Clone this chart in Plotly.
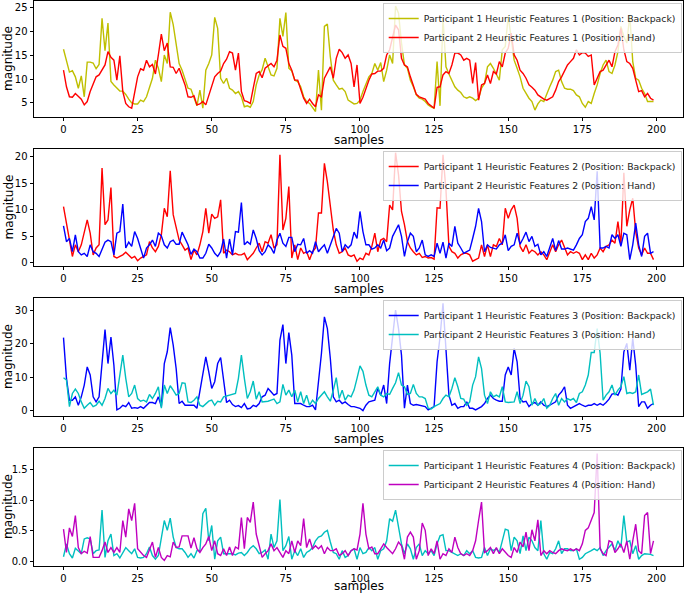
import plotly.graph_objects as go

# ---------------- data ----------------
x_tick_vals = [0, 25, 50, 75, 100, 125, 150, 175, 200]

p1_feat1_backpack = [
    16.3, 14.0, 11.5, 11.8, 10.5, 8.1, 10.7, 6.3, 13.6, 13.6,
    13.4, 12.2, 13.1, 22.8, 16.0, 21.8, 9.5, 8.8, 8.1, 7.5,
    7.5, 6.8, 5.8, 5.0, 4.8, 4.8, 5.6, 5.3, 6.3, 8.4,
    10.2, 14.0, 12.3, 9.5, 15.1, 13.3, 24.1, 21.5, 17.0, 13.3,
    11.9, 10.2, 8.1, 7.9, 6.3, 4.4, 7.7, 3.9, 11.9, 13.3,
    15.1, 23.0, 20.7, 10.2, 9.1, 10.2, 8.1, 7.7, 7.0, 7.4,
    6.3, 4.2, 4.4, 4.1, 5.3, 8.8, 10.9, 12.0, 14.4, 12.5,
    10.9, 10.7, 12.3, 22.8, 19.0, 24.0, 12.3, 11.7, 9.8, 9.5,
    8.4, 6.3, 5.3, 4.9, 4.1, 3.2, 11.9, 3.5, 21.1, 21.6,
    14.7, 9.8, 8.8, 7.9, 8.1, 7.4, 5.6, 5.1, 4.8, 4.9,
    5.6, 7.4, 9.1, 10.5, 11.2, 13.3, 11.9, 13.5, 9.5, 11.9,
    15.1, 13.3, 25.4, 23.9, 17.6, 13.0, 12.3, 9.8, 8.4, 6.7,
    6.0, 5.8, 5.3, 4.6, 4.2, 3.9, 13.7, 4.4, 22.8, 12.6,
    11.1, 9.8, 8.4, 7.7, 7.2, 6.3, 6.0, 6.3, 6.0, 5.5,
    6.0, 8.1, 9.1, 12.6, 13.3, 12.3, 10.9, 9.8, 16.2, 16.9,
    23.2, 18.3, 14.0, 12.3, 10.5, 8.1, 7.0, 6.0, 5.3, 3.5,
    4.8, 5.6, 5.3, 7.0, 8.4, 9.8, 11.6, 11.9, 9.5, 8.1,
    7.9, 7.9, 7.6, 6.7, 6.3, 4.9, 4.1, 5.3, 4.9, 7.0,
    8.8, 11.2, 13.0, 14.0, 11.6, 11.2, 13.0, 15.8, 21.1, 19.0,
    17.6, 23.5, 13.7, 10.2, 9.8, 8.1, 7.0, 5.3, 5.3, 5.3,
]

p2_feat1_hand = [
    11.9, 8.4, 6.3, 6.2, 7.0, 6.3, 5.8, 4.6, 5.3, 7.4,
    8.8, 10.5, 10.9, 11.9, 13.0, 15.8, 14.6, 14.0, 9.8, 14.9,
    7.4, 4.9, 4.2, 3.9, 7.0, 10.5, 12.2, 11.9, 14.0, 12.6,
    13.1, 11.1, 15.1, 19.5, 16.0, 17.6, 12.6, 12.5, 11.2, 12.3,
    10.5, 8.8, 6.3, 6.2, 6.5, 4.6, 4.8, 5.3, 4.6, 6.7,
    8.8, 10.5, 11.2, 11.7, 13.3, 14.2, 15.8, 15.5, 11.9, 15.5,
    7.4, 5.5, 5.3, 4.9, 8.1, 11.2, 11.6, 10.3, 12.3, 12.8,
    13.3, 12.6, 14.0, 19.3, 16.9, 16.5, 13.3, 11.9, 9.8, 9.8,
    7.7, 6.0, 4.9, 5.8, 4.9, 4.2, 6.7, 6.3, 10.2, 11.4,
    12.6, 10.2, 14.4, 16.3, 15.6, 14.4, 15.1, 13.3, 8.4, 13.0,
    4.9, 6.2, 8.1, 9.8, 11.1, 11.2, 11.7, 11.7, 12.3, 15.1,
    16.2, 19.0, 21.4, 20.4, 14.4, 13.0, 12.6, 10.5, 8.4, 6.8,
    6.3, 6.0, 5.8, 4.9, 4.4, 3.9, 8.3, 8.4, 10.9, 11.6,
    11.2, 13.0, 15.5, 15.5, 15.1, 14.0, 14.4, 14.0, 9.1, 13.5,
    5.6, 8.8, 9.1, 10.9, 9.1, 11.6, 11.1, 13.7, 12.6, 15.5,
    16.5, 19.7, 15.1, 14.0, 11.9, 11.2, 10.2, 8.8, 8.3, 7.7,
    6.7, 6.3, 5.8, 5.6, 6.0, 6.3, 7.7, 9.5, 10.5, 11.9,
    13.0, 13.7, 14.4, 16.2, 15.1, 15.6, 15.5, 14.8, 15.1, 8.8,
    10.2, 11.6, 11.9, 13.0, 14.0, 12.6, 15.8, 17.2, 20.7, 16.2,
    13.7, 13.3, 12.3, 9.8, 7.4, 7.6, 6.3, 7.0, 6.0, 5.6,
]

p1_feat2_backpack = [
    10.6, 7.2, 4.0, 1.2, 3.4, 2.1, 3.4, 5.9, 8.1, 5.6,
    1.5, 2.8, 3.4, 17.9, 7.2, 8.1, 14.2, 1.2, 0.9, 1.2,
    1.5, 2.0, 1.5, 0.9, 1.2, 0.4, 0.9, 1.2, 1.5, 4.0,
    2.8, 2.1, 3.1, 5.3, 10.3, 8.7, 17.4, 9.1, 6.9, 4.3,
    3.4, 2.4, 2.8, 0.6, 2.4, 1.5, 3.4, 5.9, 10.3, 5.6,
    9.2, 8.4, 8.7, 11.9, 1.8, 2.4, 2.1, 1.5, 1.8, 1.5,
    1.5, 1.8, 0.6, 1.2, 1.8, 2.8, 3.7, 2.1, 4.0, 3.7,
    5.3, 2.8, 3.4, 20.4, 6.2, 8.4, 14.4, 0.9, 3.4, 0.6,
    2.8, 1.8, 2.1, 0.6, 2.1, 2.8, 9.4, 9.4, 18.8, 15.3,
    10.3, 6.2, 3.4, 1.8, 2.1, 2.8, 1.5, 1.2, 1.5, 0.3,
    0.9, 0.6, 1.8, 1.5, 3.1, 5.6, 2.1, 4.3, 4.6, 4.0,
    10.9, 10.0, 20.8, 16.6, 9.7, 7.2, 4.0, 2.8, 2.1, 1.5,
    1.8, 1.0, 1.2, 0.9, 1.0, 0.7, 10.4, 10.3, 20.4, 13.8,
    3.1, 2.1, 1.8, 0.9, 1.5, 1.8, 1.8, 1.5, 0.3, 0.6,
    0.9, 3.4, 1.2, 3.4, 1.2, 3.4, 3.1, 4.6, 3.4, 10.3,
    8.4, 10.0, 10.9, 8.4, 3.1, 2.1, 3.4, 1.8, 2.4, 2.1,
    1.5, 2.1, 1.5, 0.6, 2.1, 3.4, 2.1, 3.4, 4.3, 2.8,
    1.5, 2.1, 1.8, 2.1, 1.8, 0.6, 1.5, 0.6, 1.8, 0.9,
    1.5, 2.8, 2.1, 3.1, 3.4, 4.3, 3.7, 7.8, 3.4, 17.0,
    6.9, 10.0, 12.2, 5.9, 2.8, 1.5, 2.8, 1.8, 1.8, 0.6,
]

p2_feat2_hand = [
    7.0, 4.0, 4.6, 2.1, 5.3, 2.1, 1.5, 1.8, 1.2, 3.4,
    2.1, 1.8, 1.2, 2.4, 3.9, 4.3, 4.0, 1.5, 5.6, 5.9,
    11.1, 2.8, 3.9, 3.1, 5.9, 4.6, 2.8, 0.9, 2.8, 3.4,
    4.3, 3.1, 5.6, 5.1, 3.4, 2.8, 4.0, 4.3, 3.5, 3.5,
    5.8, 4.6, 3.4, 1.6, 2.6, 2.1, 0.9, 0.9, 1.8, 3.5,
    2.8, 1.8, 1.2, 2.1, 4.5, 0.9, 4.5, 1.5, 5.9, 5.8,
    11.4, 3.4, 4.0, 3.5, 6.2, 4.6, 2.3, 1.5, 2.1, 3.4,
    2.8, 1.8, 4.3, 5.6, 3.7, 3.1, 4.8, 4.8, 2.1, 3.5,
    3.4, 4.6, 1.8, 2.3, 1.8, 4.0, 2.1, 2.8, 3.4, 1.8,
    3.4, 4.6, 6.5, 5.6, 2.1, 3.4, 2.8, 3.4, 5.8, 4.6,
    9.7, 5.9, 3.4, 3.4, 2.6, 2.8, 3.4, 2.8, 4.3, 2.3,
    2.8, 5.0, 6.0, 7.2, 5.0, 1.2, 4.0, 5.6, 5.0, 2.1,
    2.8, 4.3, 1.5, 1.2, 1.5, 1.2, 3.7, 1.8, 3.9, 0.9,
    3.7, 3.1, 6.9, 3.7, 2.8, 1.8, 2.1, 2.4, 4.6, 6.9,
    10.3, 7.8, 2.1, 3.4, 2.9, 2.8, 2.6, 3.4, 3.7, 5.3,
    2.3, 3.1, 3.4, 5.6, 3.5, 4.6, 5.8, 4.0, 5.0, 3.1,
    3.5, 1.5, 2.1, 1.2, 3.1, 4.6, 2.3, 4.2, 2.6, 2.6,
    2.8, 2.6, 2.4, 3.4, 4.6, 5.3, 7.8, 8.4, 10.6, 8.1,
    17.3, 2.8, 2.8, 3.1, 2.8, 5.3, 4.6, 5.3, 3.1, 5.6,
    5.3, 0.6, 3.4, 7.5, 3.4, 1.2, 5.0, 5.6, 1.8, 2.1,
]

p1_feat3_backpack = [
    21.8, 9.7, 3.2, 3.2, 4.2, 1.7, 4.2, 7.7, 13.1, 10.7,
    4.2, 2.7, 4.2, 14.1, 24.2, 14.1, 22.0, 13.6, 0.3, 0.8,
    1.7, 1.3, 2.5, 0.8, 1.0, 0.8, 1.3, 0.8, 1.7, 2.5,
    2.5, 2.2, 4.2, 1.3, 14.1, 17.6, 24.8, 19.6, 12.6, 2.2,
    2.9, 1.7, 1.7, 1.7, 1.7, 0.8, 5.7, 10.2, 16.1, 11.6,
    6.7, 8.7, 14.1, 15.9, 9.7, 2.5, 3.2, 1.9, 1.3, 1.6,
    1.0, 2.2, 0.6, 0.8, 1.7, 1.3, 2.2, 4.2, 4.7, 6.7,
    5.7, 4.7, 5.2, 21.1, 25.7, 14.1, 23.3, 16.6, 2.2, 2.2,
    2.2, 1.7, 1.3, 1.3, 1.7, 0.3, 8.7, 17.1, 28.0, 24.5,
    15.6, 4.2, 2.7, 3.2, 2.2, 2.7, 1.9, 1.3, 1.3, 1.0,
    0.8, 0.1, 1.7, 2.7, 2.9, 3.2, 6.7, 4.7, 7.7, 2.2,
    14.1, 21.6, 30.0, 24.5, 16.6, 0.8, 7.7, 2.2, 1.7, 1.9,
    1.7, 1.6, 1.3, 0.3, 0.8, 1.3, 14.6, 22.0, 32.0, 19.6,
    4.7, 1.7, 2.2, 0.8, 1.3, 1.3, 2.7, 0.8, 0.8, 0.3,
    0.8, 1.3, 2.2, 3.7, 4.7, 3.7, 3.2, 2.9, 2.9, 10.7,
    13.1, 10.7, 18.6, 14.6, 3.7, 2.7, 2.9, 1.3, 2.2, 2.5,
    1.7, 2.7, 1.7, 1.3, 1.7, 2.2, 2.7, 4.7, 5.7, 7.2,
    1.7, 0.8, 1.3, 1.7, 2.2, 1.7, 1.3, 1.7, 1.7, 2.2,
    1.7, 2.2, 1.7, 2.5, 3.5, 5.0, 5.2, 4.7, 6.5, 17.6,
    20.1, 12.1, 21.6, 13.6, 1.3, 2.7, 2.7, 0.8, 1.7, 2.2,
]

p2_feat3_hand = [
    9.9, 9.2, 1.3, 5.2, 6.5, 5.2, 2.7, 0.8, 1.7, 2.5,
    1.3, 1.7, 2.9, 1.7, 3.7, 6.7, 5.2, 6.2, 4.7, 10.7,
    16.6, 9.7, 4.2, 5.2, 7.7, 3.7, 2.9, 3.2, 2.7, 4.9,
    3.7, 5.2, 7.2, 0.8, 7.7, 5.2, 7.5, 6.2, 4.7, 5.2,
    8.4, 8.2, 2.7, 2.5, 3.2, 4.2, 1.7, 1.3, 2.2, 2.9,
    3.2, 1.7, 2.9, 2.7, 4.2, 4.5, 4.7, 4.9, 5.2, 9.7,
    16.6, 9.7, 3.7, 5.7, 8.9, 3.5, 5.7, 2.7, 2.7, 2.9,
    3.2, 3.5, 2.2, 2.7, 7.9, 4.7, 6.2, 4.2, 6.2, 2.7,
    5.7, 2.2, 4.7, 1.7, 3.2, 2.2, 3.7, 4.7, 5.7, 4.2,
    2.9, 6.2, 9.9, 3.7, 6.2, 3.2, 4.7, 4.2, 6.2, 9.7,
    13.4, 11.8, 7.7, 4.7, 4.2, 5.7, 7.2, 4.7, 4.2, 5.2,
    4.9, 6.7, 8.4, 11.4, 7.7, 7.2, 4.9, 5.2, 7.9, 5.2,
    4.2, 4.2, 3.7, 0.8, 0.6, 1.3, 1.7, 2.2, 3.7, 4.7,
    4.2, 6.7, 9.9, 7.2, 3.7, 3.5, 1.7, 2.7, 7.7, 10.2,
    16.1, 12.6, 4.7, 2.2, 5.7, 4.2, 4.7, 4.2, 7.2, 2.7,
    2.5, 2.7, 2.7, 5.7, 2.2, 4.7, 8.9, 7.2, 1.7, 3.7,
    1.7, 2.2, 3.7, 0.8, 1.7, 3.7, 5.2, 1.7, 3.7, 2.7,
    3.7, 3.2, 3.7, 2.5, 5.2, 5.7, 7.7, 10.7, 17.4, 17.4,
    24.5, 17.1, 3.2, 4.7, 5.7, 7.7, 4.7, 6.2, 7.2, 10.2,
    5.2, 5.5, 5.2, 5.7, 10.7, 4.9, 5.2, 5.7, 6.5, 1.7,
]

p1_feat4_backpack = [
    0.08, 0.29, 0.13, 0.06, 0.22, 0.18, 0.13, 0.37, 0.39, 0.37,
    0.13, 0.18, 0.19, 0.84, 0.07, 0.34, 0.45, 0.10, 0.13, 0.06,
    0.15, 0.23, 0.18, 0.13, 0.21, 0.07, 0.06, 0.07, 0.13, 0.24,
    0.10, 0.04, 0.10, 0.37, 0.67, 0.51, 0.71, 0.40, 0.23, 0.21,
    0.21, 0.15, 0.07, 0.13, 0.06, 0.18, 0.18, 0.78, 0.87, 0.34,
    0.59, 0.04, 0.34, 0.40, 0.13, 0.13, 0.13, 0.13, 0.11, 0.14,
    0.15, 0.10, 0.15, 0.22, 0.26, 0.21, 0.13, 0.15, 0.19, 0.04,
    0.45, 0.23, 0.34, 1.01, 0.18, 0.26, 0.41, 0.04, 0.18, 0.10,
    0.21, 0.07, 0.15, 0.18, 0.23, 0.34, 0.40, 0.42, 0.48, 0.51,
    0.32, 0.15, 0.13, 0.04, 0.18, 0.07, 0.10, 0.18, 0.21, 0.04,
    0.23, 0.13, 0.15, 0.23, 0.18, 0.23, 0.04, 0.18, 0.21, 0.34,
    0.70, 0.66, 0.84, 0.53, 0.29, 0.13, 0.29, 0.21, 0.04, 0.23,
    0.29, 0.10, 0.18, 0.13, 0.18, 0.10, 0.29, 0.42, 0.44, 0.18,
    0.18, 0.15, 0.13, 0.10, 0.13, 0.10, 0.18, 0.13, 0.18, 0.07,
    0.06, 0.07, 0.23, 0.10, 0.21, 0.18, 0.21, 0.15, 0.34, 0.53,
    0.51, 0.18, 0.40, 0.34, 0.13, 0.42, 0.18, 0.40, 0.34, 0.23,
    0.18, 0.67, 0.13, 0.04, 0.15, 0.13, 0.21, 0.34, 0.13, 0.21,
    0.21, 0.18, 0.18, 0.21, 0.04, 0.07, 0.13, 0.15, 0.18, 0.21,
    0.18, 0.23, 0.10, 0.18, 0.23, 0.29, 0.18, 0.34, 0.23, 0.75,
    0.32, 0.34, 0.13, 0.26, 0.04, 0.10, 0.13, 0.13, 0.12, 0.10,
]

p2_feat4_hand = [
    0.53, 0.15, 0.55, 0.41, 0.75, 0.23, 0.13, 0.17, 0.14, 0.41,
    0.07, 0.07, 0.07, 0.18, 0.32, 0.15, 0.23, 0.15, 0.23, 0.15,
    0.67, 0.40, 0.86, 0.67, 0.95, 0.21, 0.15, 0.10, 0.07, 0.18,
    0.32, 0.07, 0.23, 0.07, 0.02, 0.10, 0.08, 0.32, 0.23, 0.24,
    0.42, 0.42, 0.42, 0.22, 0.39, 0.21, 0.15, 0.23, 0.29, 0.41,
    0.18, 0.34, 0.13, 0.10, 0.21, 0.10, 0.24, 0.10, 0.24, 0.21,
    0.72, 0.21, 0.72, 0.64, 0.97, 0.45, 0.26, 0.07, 0.13, 0.18,
    0.29, 0.18, 0.23, 0.15, 0.07, 0.18, 0.13, 0.34, 0.15, 0.34,
    0.26, 0.70, 0.23, 0.37, 0.21, 0.26, 0.21, 0.26, 0.13, 0.23,
    0.18, 0.18, 0.21, 0.10, 0.13, 0.18, 0.10, 0.18, 0.21, 0.19,
    0.45, 0.95, 0.45, 0.21, 0.24, 0.13, 0.13, 0.21, 0.29, 0.23,
    0.18, 0.13, 0.21, 0.32, 0.26, 0.04, 0.40, 0.48, 0.40, 0.04,
    0.18, 0.63, 0.51, 0.10, 0.21, 0.13, 0.34, 0.04, 0.13, 0.10,
    0.21, 0.15, 0.40, 0.23, 0.13, 0.10, 0.13, 0.10, 0.18, 0.34,
    0.67, 0.97, 0.15, 0.18, 0.23, 0.13, 0.23, 0.13, 0.21, 0.15,
    0.10, 0.07, 0.23, 0.15, 0.32, 0.24, 0.48, 0.18, 0.52, 0.34,
    0.68, 0.10, 0.18, 0.13, 0.18, 0.15, 0.13, 0.18, 0.21, 0.19,
    0.18, 0.21, 0.18, 0.21, 0.18, 0.29, 0.51, 0.55, 0.67, 0.80,
    1.76, 0.21, 0.13, 0.10, 0.34, 0.32, 0.15, 0.21, 0.29, 0.15,
    0.34, 0.04, 0.34, 0.61, 0.18, 0.13, 0.75, 0.80, 0.13, 0.34,
]

legend_names = [
    ("Participant 1 Heuristic Features 1 (Position: Backpack)", "Participant 2 Heuristic Features 1 (Position: Hand)"),
    ("Participant 1 Heuristic Features 2 (Position: Backpack)", "Participant 2 Heuristic Features 2 (Position: Hand)"),
    ("Participant 1 Heuristic Features 3 (Position: Backpack)", "Participant 2 Heuristic Features 3 (Position: Hand)"),
    ("Participant 1 Heuristic Features 4 (Position: Backpack)", "Participant 2 Heuristic Features 4 (Position: Hand)"),
]
y_tick_vals = [
    [5, 10, 15, 20, 25],
    [0, 5, 10, 15, 20],
    [0, 10, 20, 30],
    [0.0, 0.5, 1.0, 1.5],
]
y_tick_text = [
    ["5", "10", "15", "20", "25"],
    ["0", "5", "10", "15", "20"],
    ["0", "10", "20", "30"],
    ["0.0", "0.5", "1.0", "1.5"],
]
x_title = "samples"
y_title = "magnitude"

# ---------------- styling / layout ----------------
series = [
    (p1_feat1_backpack, p2_feat1_hand),
    (p1_feat2_backpack, p2_feat2_hand),
    (p1_feat3_backpack, p2_feat3_hand),
    (p1_feat4_backpack, p2_feat4_hand),
]
colors = [("#bfbf00", "#ff0000"), ("#ff0000", "#0000ff"), ("#0000ff", "#00bfbf"), ("#00bfbf", "#bf00bf")]
y_ranges = [[2.05, 26.45], [-0.6, 21.5], [-1.5, 33.6], [-0.07, 1.85]]

W, H = 685, 594
ML, MR = 34, 2
PW = W - ML - MR
# panel pixel extents (top, bottom) measured from top of the picture
panel_px = [(1, 117), (149, 266), (298, 416), (448, 566)]
domains = [[(H - b) / H, (H - t) / H] for (t, b) in panel_px]

FONT = "DejaVu Sans"
fig = go.Figure()

for k in range(4):
    sfx = "" if k == 0 else str(k + 1)
    for j in range(2):
        yv = series[k][j]
        fig.add_trace(go.Scatter(
            x=list(range(len(yv))), y=yv, mode="lines",
            name=legend_names[k][j],
            line=dict(color=colors[k][j], width=1.4),
            xaxis="x" + sfx, yaxis="y" + sfx,
            legend="legend" + sfx,
        ))

axis_common = dict(
    showline=True, linecolor="black", linewidth=0.8, mirror=True,
    ticks="outside", ticklen=3.5, tickwidth=0.8, tickcolor="black",
    showgrid=False, zeroline=False, automargin=False,
    tickfont=dict(family=FONT, size=10, color="black"),
)

layout = dict(
    width=W, height=H,
    margin=dict(l=ML, r=MR, t=0, b=0, autoexpand=False),
    plot_bgcolor="white", paper_bgcolor="white",
    font=dict(family=FONT, color="black"),
)
annotations = []
for k in range(4):
    sfx = "" if k == 0 else str(k + 1)
    t, b = panel_px[k]
    layout["xaxis" + sfx] = dict(
        axis_common, domain=[0, 1], anchor="y" + sfx,
        range=[-9.95, 208.95], tickvals=x_tick_vals,
    )
    layout["yaxis" + sfx] = dict(
        axis_common, domain=domains[k], anchor="x" + sfx,
        range=y_ranges[k], tickvals=y_tick_vals[k], ticktext=y_tick_text[k],
    )
    layout["legend" + sfx] = dict(
        x=0.998, y=(H - t - 2) / H, xanchor="right", yanchor="top",
        bgcolor="rgba(255,255,255,0.8)", bordercolor="#cccccc", borderwidth=1,
        font=dict(family=FONT, size=9.3, color="#222222"),
        tracegroupgap=0,
    )
    # axis titles
    title_y = min(b + 22.5, 585.5)
    annotations.append(dict(
        text=x_title, xref="paper", yref="paper", x=0.5, y=(H - title_y) / H,
        xanchor="center", yanchor="middle", showarrow=False,
        font=dict(family=FONT, size=12, color="black"),
    ))
    annotations.append(dict(
        text=y_title, xref="paper", yref="paper", x=(8 - ML) / PW, y=(H - (t + b) / 2) / H,
        xanchor="center", yanchor="middle", showarrow=False, textangle=-90,
        font=dict(family=FONT, size=12, color="black"),
    ))
layout["annotations"] = annotations

fig.update_layout(**layout)
# remove the default page margin so the figure sits at the window's top-left corner
fig.write_html(
    "out.html",
    config={"displayModeBar": False},
    post_script="document.body.style.margin='0';document.body.style.overflow='hidden';",
)
